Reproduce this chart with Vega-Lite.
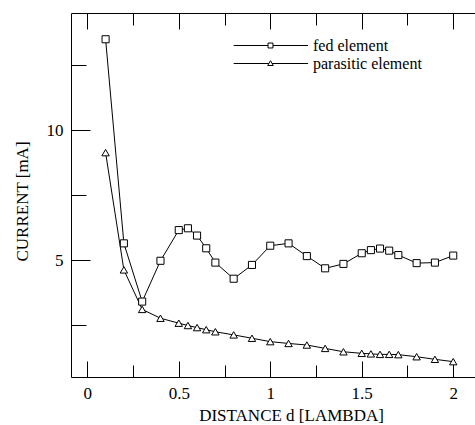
{
  "$schema": "https://vega.github.io/schema/vega-lite/v6.json",
  "width": 404,
  "height": 364,
  "autosize": {"type": "none"},
  "padding": {"left": 71, "top": 13, "right": 0, "bottom": 48},
  "background": "white",
  "config": {
    "view": {"stroke": "black", "strokeWidth": 1},
    "font": "Liberation Serif",
    "axis": {
      "domain": false,
      "domainColor": "black",
      "ticks": true,
      "tickColor": "black",
      "tickWidth": 1,
      "tickOpacity": 1,
      "grid": false,
      "labelColor": "black",
      "titleColor": "black",
      "labelFont": "Liberation Serif",
      "titleFont": "Liberation Serif",
      "labelFontSize": 17,
      "titleFontSize": 17,
      "titleFontWeight": "normal"
    },
    "legend": {
      "orient": "none",
      "title": null,
      "padding": 0,
      "symbolSize": 256,
      "symbolStrokeWidth": 1,
      "labelOffset": 34,
      "labelFont": "Liberation Serif",
      "labelFontSize": 16,
      "labelColor": "black"
    }
  },
  "data": {
    "values": [
      {"d": 0.1, "current": 13.49, "series": "fed element"},
      {"d": 0.2, "current": 5.64, "series": "fed element"},
      {"d": 0.3, "current": 3.40, "series": "fed element"},
      {"d": 0.4, "current": 4.97, "series": "fed element"},
      {"d": 0.5, "current": 6.15, "series": "fed element"},
      {"d": 0.55, "current": 6.22, "series": "fed element"},
      {"d": 0.6, "current": 5.94, "series": "fed element"},
      {"d": 0.65, "current": 5.45, "series": "fed element"},
      {"d": 0.7, "current": 4.90, "series": "fed element"},
      {"d": 0.8, "current": 4.28, "series": "fed element"},
      {"d": 0.9, "current": 4.81, "series": "fed element"},
      {"d": 1.0, "current": 5.55, "series": "fed element"},
      {"d": 1.1, "current": 5.64, "series": "fed element"},
      {"d": 1.2, "current": 5.15, "series": "fed element"},
      {"d": 1.3, "current": 4.68, "series": "fed element"},
      {"d": 1.4, "current": 4.85, "series": "fed element"},
      {"d": 1.5, "current": 5.26, "series": "fed element"},
      {"d": 1.55, "current": 5.38, "series": "fed element"},
      {"d": 1.6, "current": 5.44, "series": "fed element"},
      {"d": 1.65, "current": 5.36, "series": "fed element"},
      {"d": 1.7, "current": 5.19, "series": "fed element"},
      {"d": 1.8, "current": 4.88, "series": "fed element"},
      {"d": 1.9, "current": 4.90, "series": "fed element"},
      {"d": 2.0, "current": 5.17, "series": "fed element"},
      {"d": 0.1, "current": 9.13, "series": "parasitic element"},
      {"d": 0.2, "current": 4.62, "series": "parasitic element"},
      {"d": 0.3, "current": 3.10, "series": "parasitic element"},
      {"d": 0.4, "current": 2.76, "series": "parasitic element"},
      {"d": 0.5, "current": 2.57, "series": "parasitic element"},
      {"d": 0.55, "current": 2.48, "series": "parasitic element"},
      {"d": 0.6, "current": 2.40, "series": "parasitic element"},
      {"d": 0.65, "current": 2.32, "series": "parasitic element"},
      {"d": 0.7, "current": 2.24, "series": "parasitic element"},
      {"d": 0.8, "current": 2.12, "series": "parasitic element"},
      {"d": 0.9, "current": 1.99, "series": "parasitic element"},
      {"d": 1.0, "current": 1.86, "series": "parasitic element"},
      {"d": 1.1, "current": 1.79, "series": "parasitic element"},
      {"d": 1.2, "current": 1.73, "series": "parasitic element"},
      {"d": 1.3, "current": 1.60, "series": "parasitic element"},
      {"d": 1.4, "current": 1.47, "series": "parasitic element"},
      {"d": 1.5, "current": 1.41, "series": "parasitic element"},
      {"d": 1.55, "current": 1.39, "series": "parasitic element"},
      {"d": 1.6, "current": 1.37, "series": "parasitic element"},
      {"d": 1.65, "current": 1.37, "series": "parasitic element"},
      {"d": 1.7, "current": 1.36, "series": "parasitic element"},
      {"d": 1.8, "current": 1.28, "series": "parasitic element"},
      {"d": 1.9, "current": 1.18, "series": "parasitic element"},
      {"d": 2.0, "current": 1.09, "series": "parasitic element"}
    ]
  },
  "layer": [
    {
      "mark": {"type": "line", "color": "black", "strokeWidth": 1},
      "encoding": {
        "x": {
          "field": "d", "type": "quantitative",
          "scale": {"domain": [-0.089, 2.119], "nice": false, "zero": false},
          "axis": {
            "orient": "bottom",
            "title": "DISTANCE d [LAMBDA]",
            "titleX": 220,
            "titleY": 38,
            "titleBaseline": "middle",
            "values": [0, 0.5, 1, 1.5, 2],
            "format": "~g",
            "ticks": false,
            "tickSize": 0,
            "labelPadding": 8,
            "labelBaseline": "top"
          }
        },
        "y": {
          "field": "current", "type": "quantitative",
          "scale": {"domain": [0.5, 14.5], "nice": false, "zero": false},
          "axis": {
            "orient": "left",
            "title": "CURRENT [mA]",
            "titleX": -49,
            "titleY": 188,
            "titleBaseline": "middle",
            "values": [5, 10],
            "format": "d",
            "ticks": false,
            "tickSize": 0,
            "labelPadding": 8
          }
        },
        "detail": {"field": "series"}
      }
    },
    {
      "mark": {"type": "point", "opacity": 0},
      "encoding": {
        "x": {
          "field": "d", "type": "quantitative",
          "scale": {"domain": [-0.089, 2.119], "nice": false, "zero": false},
          "axis": {
            "orient": "top", "title": null, "labels": false,
            "values": [0, 0.5, 1, 1.5, 2], "offset": -16, "tickSize": 16,
            "tickColor": "black", "tickWidth": 1
          }
        },
        "y": {"field": "current", "type": "quantitative", "axis": null}
      }
    },
    {
      "mark": {"type": "point", "opacity": 0},
      "encoding": {
        "x": {
          "field": "d", "type": "quantitative",
          "scale": {"domain": [-0.089, 2.119], "nice": false, "zero": false},
          "axis": {
            "orient": "top", "title": null, "labels": false,
            "values": [0.25, 0.75, 1.25, 1.75], "offset": -12, "tickSize": 12,
            "tickColor": "black", "tickWidth": 1
          }
        },
        "y": {"field": "current", "type": "quantitative", "axis": null}
      }
    },
    {
      "transform": [{"filter": "datum.series === 'fed element'"}],
      "mark": {"type": "point", "shape": "square", "filled": false, "fill": "white", "stroke": "black", "strokeWidth": 1, "opacity": 1, "size": 50},
      "encoding": {
        "x": {
          "field": "d", "type": "quantitative",
          "scale": {"domain": [-0.089, 2.119], "nice": false, "zero": false},
          "axis": {
            "orient": "bottom", "title": null, "labels": false,
            "values": [0, 0.5, 1, 1.5, 2], "offset": -16, "tickSize": 16,
            "tickColor": "black", "tickWidth": 1
          }
        },
        "y": {
          "field": "current", "type": "quantitative",
          "scale": {"domain": [0.5, 14.5], "nice": false, "zero": false},
          "axis": {
            "orient": "left", "title": null, "labels": false,
            "values": [5, 10], "offset": -19, "tickSize": 19,
            "tickColor": "black", "tickWidth": 1
          }
        },
        "color": {
          "field": "series", "type": "nominal",
          "scale": {"domain": ["fed element"], "range": ["black"]},
          "legend": {
            "legendX": 191,
            "legendY": 24,
            "symbolType": "M-4.6,0H-0.31M0.31,0H4.7M-0.31,-0.31H0.31V0.31H-0.31Z"
          }
        }
      }
    },
    {
      "transform": [{"filter": "datum.series === 'parasitic element'"}],
      "mark": {"type": "point", "shape": "triangle-up", "filled": false, "fill": "white", "stroke": "black", "strokeWidth": 1, "opacity": 1, "size": 55},
      "encoding": {
        "x": {
          "field": "d", "type": "quantitative",
          "scale": {"domain": [-0.089, 2.119], "nice": false, "zero": false},
          "axis": {
            "orient": "bottom", "title": null, "labels": false,
            "values": [0.25, 0.75, 1.25, 1.75], "offset": -12, "tickSize": 12,
            "tickColor": "black", "tickWidth": 1
          }
        },
        "y": {
          "field": "current", "type": "quantitative",
          "scale": {"domain": [0.5, 14.5], "nice": false, "zero": false},
          "axis": {
            "orient": "left", "title": null, "labels": false,
            "values": [2.5, 7.5, 12.5], "offset": -15, "tickSize": 15,
            "tickColor": "black", "tickWidth": 1
          }
        },
        "color": {
          "field": "series", "type": "nominal",
          "scale": {"domain": ["parasitic element"], "range": ["black"]},
          "legend": {
            "legendX": 191,
            "legendY": 42,
            "symbolType": "M-4.6,0H-0.2M0.2,0H4.7M-0.35,0.25L0,-0.35L0.35,0.25Z"
          }
        }
      }
    }
  ],
  "resolve": {
    "axis": {"x": "independent", "y": "independent"},
    "scale": {"color": "independent"},
    "legend": {"color": "independent"}
  }
}
